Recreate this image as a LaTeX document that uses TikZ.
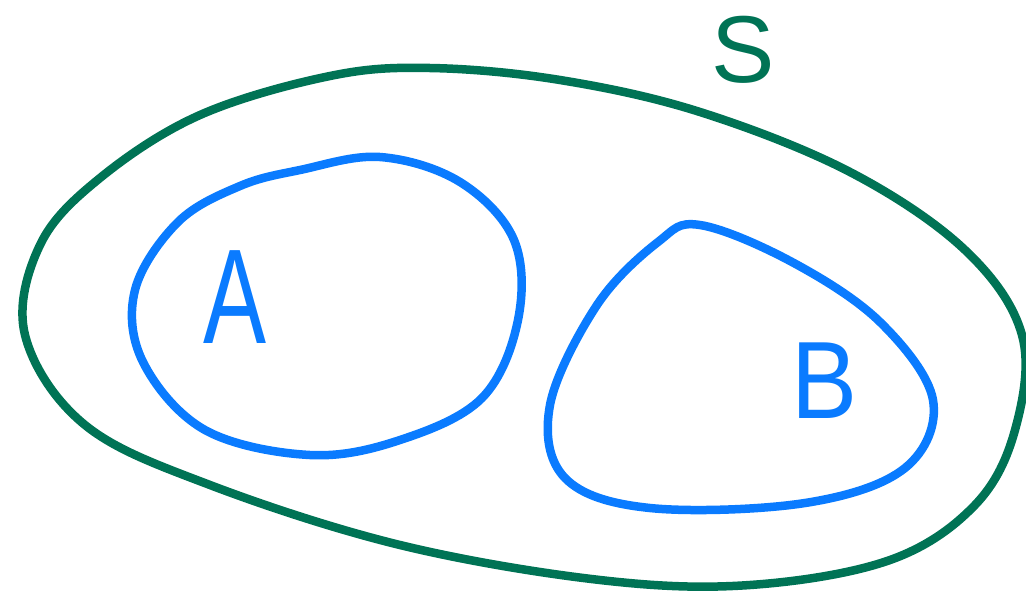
\documentclass[tikz,border=0pt]{standalone}
\usepackage{fontspec}
\setmainfont{Liberation Sans}
\definecolor{sgreen}{HTML}{007355}
\definecolor{setblue}{HTML}{0A7BFF}
\begin{document}
\begin{tikzpicture}[x=1pt,y=-1pt,
  outline/.style={line width=8.5pt,line cap=round,line join=round},
  lbl/.style={inner sep=0pt,font=\fontsize{#1}{#1}\selectfont}]
\useasboundingbox (0,0) rectangle (1026,598);
% universe S
\draw[outline,sgreen] plot[smooth cycle,tension=0.6] coordinates {
 (430,68) (560,80) (700,112) (850,172) (965,250) (1022,335) (1015,430)
 (975,505) (890,560) (750,585) (600,580) (400,545) (210,485) (85,425)
 (25,335) (40,245) (100,178) (200,115) (330,76)};
% set A
\draw[outline,setblue] plot[smooth cycle,tension=0.6] coordinates {
 (300,170) (380,157) (460,182) (514,240) (518,320) (482,398) (400,440)
 (310,455) (205,430) (143,362) (135,290) (178,222) (240,186)};
% set B
\draw[outline,setblue] plot[smooth cycle,tension=0.6] coordinates {
 (700,225) (792,262) (880,322) (933,400) (905,468) (805,503) (650,508)
 (565,478) (550,405) (597,305) (658,242)};
\node[lbl=135,setblue,xscale=0.7] (la) at (235,297) {A};
\node[lbl=110,setblue,xscale=0.9] (lb) at (825,381) {B};
\node[lbl=95,sgreen] (ls) at (743,50) {S};
\end{tikzpicture}
\end{document}
